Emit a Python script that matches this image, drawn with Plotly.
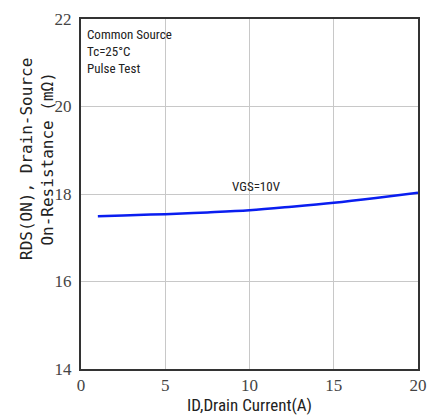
import plotly.graph_objects as go

drain_current = [1, 2.5, 5, 7.5, 10, 12.5, 15, 17.5, 20]
rds_on = [17.49, 17.51, 17.54, 17.58, 17.63, 17.71, 17.80, 17.91, 18.03]
x_ticks = [0, 5, 10, 15, 20]
y_ticks = [14, 16, 18, 20, 22]

narrow = "Liberation Sans Narrow, Roboto Condensed, Liberation Sans, sans-serif"
# browser default (Times-like) face for tick digits
tick_family = "Liberation Sans Narrow"

fig = go.Figure()
fig.add_trace(go.Scatter(x=drain_current, y=rds_on, mode="lines",
                         line=dict(color="#0a1ef0", width=2.5, shape="spline"),
                         showlegend=False, hoverinfo="skip"))

fig.update_layout(
    width=437, height=419,
    margin=dict(l=81, r=10, t=11, b=50),
    paper_bgcolor="white", plot_bgcolor="white",
    xaxis=dict(range=[0, 20], tickvals=x_ticks, showgrid=True, gridcolor="#c8c8c8",
               gridwidth=1, showline=True, linecolor="#333333", linewidth=2, mirror=True,
               ticks="", zeroline=False,
               tickfont=dict(family=tick_family, size=17, color="#444444"),
               title=dict(text="ID,Drain Current(A)", standoff=2,
                          font=dict(family=narrow, size=17, color="#222222"))),
    yaxis=dict(range=[14, 22], tickvals=y_ticks, showgrid=True, gridcolor="#c8c8c8",
               gridwidth=1, showline=True, linecolor="#333333", linewidth=2, mirror=True,
               ticks="", zeroline=False, ticklabelstandoff=4,
               tickfont=dict(family=tick_family, size=17, color="#444444")),
)

fig.add_annotation(text="RDS(ON), Drain-Source<br>On-Resistance (mΩ)",
                   xref="paper", yref="paper", x=0, y=0.5, xshift=-22, yshift=35,
                   xanchor="right", yanchor="middle", textangle=-90, showarrow=False,
                   font=dict(family="DejaVu Sans Mono", size=16, color="#222222"))

fig.add_annotation(text="Common Source<br>Tc=25°C<br>Pulse Test",
                   xref="paper", yref="paper", x=0, y=1, xshift=4, yshift=-6,
                   xanchor="left", yanchor="top", align="left", showarrow=False,
                   font=dict(family=narrow, size=13, color="#222222"))

fig.add_annotation(text="VGS=10V", x=10.4, y=18.18, showarrow=False,
                   font=dict(family=narrow, size=13, color="#222222"))

fig.write_html("out.html")
